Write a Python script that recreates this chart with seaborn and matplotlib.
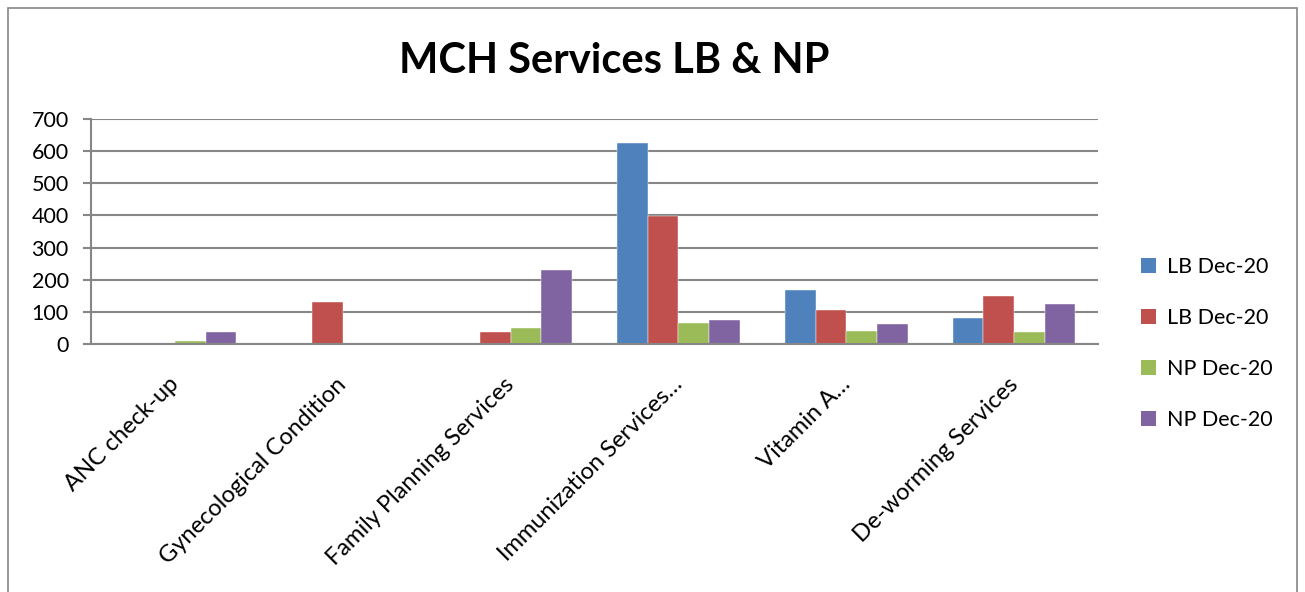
import numpy as np
import pandas as pd
import matplotlib
matplotlib.use("Agg")
import matplotlib.pyplot as plt
import seaborn as sns
from matplotlib.patches import Rectangle, Patch

# chart data
categories = ['ANC check-up', 'Gynecological Condition', 'Family Planning Services',
              'Immunization Services\u2026', 'Vitamin A\u2026', 'De-worming Services']
series_keys = ['LB1', 'LB2', 'NP1', 'NP2']
series_labels = ['LB Dec-20', 'LB Dec-20', 'NP Dec-20', 'NP Dec-20']
lb_1 = [0, 4, 3, 624, 168, 81]
lb_2 = [4, 132, 37, 399, 105, 150]
np_1 = [8, 0, 49, 65, 42, 38]
np_2 = [38, 0, 230, 74, 62, 124]
y_ticks = [0, 100, 200, 300, 400, 500, 600, 700]

colors = ['#4F81BD', '#C0504D', '#9BBB59', '#8064A2']

df = pd.DataFrame({'category': categories, 'LB1': lb_1, 'LB2': lb_2, 'NP1': np_1, 'NP2': np_2})
long = df.melt(id_vars='category', var_name='series', value_name='value')

sns.set_style('white')
plt.rcParams['font.family'] = ['Lato', 'DejaVu Sans']
plt.rcParams['text.color'] = 'black'
plt.rcParams['xtick.color'] = 'black'
plt.rcParams['ytick.color'] = 'black'

fig = plt.figure(figsize=(13.05, 5.92), dpi=100)
ax = fig.add_axes([0.0697, 0.4189, 0.7717, 0.3801])

sns.barplot(data=long, x='category', y='value', hue='series', hue_order=series_keys,
            order=categories, palette=colors, ax=ax, width=0.73, legend=False,
            edgecolor='white', linewidth=0.3, saturation=1)

ax.set_ylim(0, 700)
ax.set_xlim(-0.5, len(categories) - 0.5)
ax.set_yticks(y_ticks)
ax.set_yticklabels([str(t) for t in y_ticks], fontsize=15.5)
ax.yaxis.grid(True, color='#868686', linewidth=1.5)
ax.set_axisbelow(True)
ax.set_xlabel('')
ax.set_ylabel('')
for s in ['top', 'right']:
    ax.spines[s].set_visible(False)
for s in ['left', 'bottom']:
    ax.spines[s].set_color('#868686')
    ax.spines[s].set_linewidth(1.5)
ax.tick_params(axis='y', left=True, length=6, color='#868686', labelcolor='black',
               width=1.5, pad=10)
ax.tick_params(axis='x', bottom=False, pad=2, labelcolor='black')
ax.set_xticks(range(len(categories)))
ax.set_xticklabels(categories, rotation=45, ha='right', va='top',
                   rotation_mode='anchor', fontsize=17)
shift = matplotlib.transforms.ScaledTranslation(-0.07, -0.22, fig.dpi_scale_trans)
for lab in ax.get_xticklabels():
    lab.set_transform(lab.get_transform() + shift)

fig.text(0.4705, 0.897, 'MCH Services LB & NP', ha='center', va='center',
         fontsize=30, fontweight='bold', color='black')

handles = [Patch(facecolor=c, edgecolor='none') for c in colors]
fig.legend(handles, series_labels, loc='upper left', bbox_to_anchor=(0.868, 0.58),
           frameon=False, fontsize=15.5, handlelength=0.7, handleheight=0.7,
           handletextpad=0.5, labelspacing=1.43, borderaxespad=0, labelcolor='black')

fig.patches.append(Rectangle((8 / 1305, -0.05), 1289 / 1305, 1.05 - 8 / 592,
                             transform=fig.transFigure, fill=False,
                             edgecolor='#868686', linewidth=1.2))

fig.savefig('out.png', dpi=100)
